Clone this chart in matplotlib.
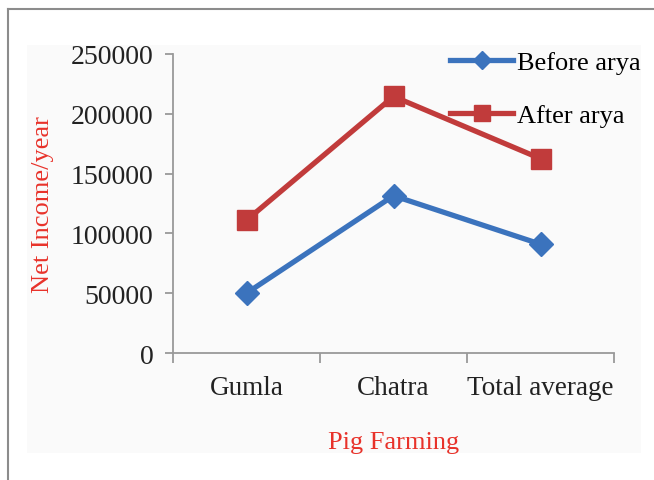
import matplotlib.pyplot as plt
from matplotlib.lines import Line2D
from matplotlib.patches import Rectangle

# Data
categories = ['Gumla', 'Chatra', 'Total average']
before_arya = [50000, 131500, 91000]
after_arya = [111000, 214500, 162500]

plt.rcParams['font.family'] = ['Liberation Serif', 'DejaVu Serif']

fig = plt.figure(figsize=(6.54, 4.81), dpi=100)
fig.patch.set_facecolor('white')

# inner light panel and partial frame
fig.add_artist(Rectangle((27 / 654, 1 - 454 / 481), (641 - 27) / 654, (454 - 46) / 481,
                         transform=fig.transFigure, facecolor='#fafafa', edgecolor='none', zorder=0))
fig.add_artist(Line2D([8 / 654, 8 / 654], [0, 1 - 10 / 481], transform=fig.transFigure,
                      color='#8c8c8c', lw=1.5))
fig.add_artist(Line2D([8 / 654, 1], [1 - 10 / 481, 1 - 10 / 481], transform=fig.transFigure,
                      color='#8c8c8c', lw=1.5))

ax = fig.add_axes([173 / 654, 1 - 354 / 481, (614 - 173) / 654, (354 - 55) / 481])
ax.set_facecolor('none')

x = range(1, len(categories) + 1)
ax.plot(x, before_arya, color='#3b73bd', lw=3.8, marker='D', markersize=12,
        label='Before arya', clip_on=False, zorder=3)
ax.plot(x, after_arya, color='#c13b3b', lw=3.8, marker='s', markersize=15,
        label='After arya', clip_on=False, zorder=3)

ax.set_xlim(0.5, 3.5)
ax.set_ylim(0, 250000)
ax.set_yticks(range(0, 250001, 50000))
ax.set_xticks([0.5, 1.5, 2.5, 3.5])
ax.set_xticklabels([])
ax.set_xticks(list(x), minor=True)
ax.set_xticklabels(categories, minor=True)
ax.tick_params(axis='x', which='major', length=7, width=1.3, color='#999999', direction='out')
ax.tick_params(axis='x', which='minor', length=0, pad=16, labelsize=19.5, labelcolor='#222222')
ax.tick_params(axis='y', length=6, width=1.3, color='#999999', direction='out',
               labelsize=20, labelcolor='#222222', pad=8)

for s in ['top', 'right']:
    ax.spines[s].set_visible(False)
for s in ['left', 'bottom']:
    ax.spines[s].set_color('#999999')
    ax.spines[s].set_linewidth(1.3)

ax.set_ylabel('Net Income/year', color='#e8322a', fontsize=19, labelpad=12)
ax.set_xlabel('Pig Farming', color='#e8322a', fontsize=19, labelpad=22)

leg = ax.legend(loc='upper left', bbox_to_anchor=(450 / 654, 1 - 52 / 481),
                bbox_transform=fig.transFigure, frameon=False, fontsize=19,
                borderpad=0, borderaxespad=0, handlelength=2.4, handletextpad=0.15,
                labelspacing=1.1, markerscale=0.75)

fig.savefig('out.png', dpi=100)
